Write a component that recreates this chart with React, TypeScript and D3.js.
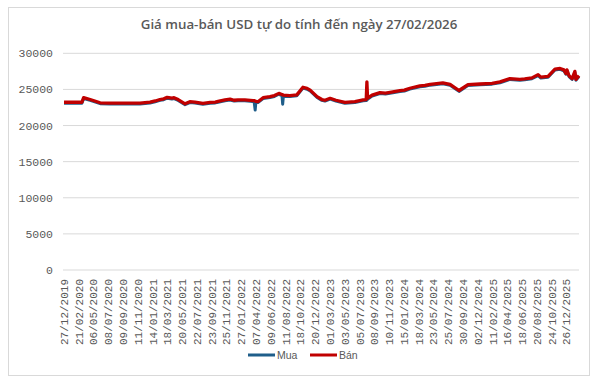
import React from "react";
import * as d3 from "d3";

const title = "Giá mua-bán USD tự do tính đến ngày 27/02/2026";

const tickLabels = [
  "27/12/2019", "21/02/2020", "06/05/2020", "08/07/2020", "09/09/2020", "11/11/2020",
  "14/01/2021", "18/03/2021", "20/05/2021", "22/07/2021", "23/09/2021", "25/11/2021",
  "27/01/2022", "07/04/2022", "09/06/2022", "11/08/2022", "18/10/2022", "20/12/2022",
  "01/03/2023", "03/05/2023", "05/07/2023", "08/09/2023", "10/11/2023", "15/01/2024",
  "18/03/2024", "23/05/2024", "25/07/2024", "30/09/2024", "02/12/2024", "11/02/2025",
  "16/04/2025", "18/06/2025", "20/08/2025", "24/10/2025", "26/12/2025",
];
const labelInterval = 43; // trading days between labels
const totalDays = 1498;

// trading-day index of each sampled observation
const dayIndex = [
  0, 52, 57, 76, 105, 134, 221, 250, 265, 279, 290, 300, 314, 320, 332, 352, 366, 381,
  404, 425, 440, 448, 468, 483, 495, 506, 526, 550, 553, 556, 558, 564, 579, 599, 612,
  625, 634, 636, 638, 657, 677, 695, 707, 716, 736, 750, 759, 774, 791, 817, 846, 870,
  879, 881, 883, 896, 919, 935, 948, 977, 990, 1006, 1035, 1050, 1065, 1102, 1123, 1149,
  1175, 1210, 1245, 1268, 1297, 1326, 1340, 1361, 1379, 1387, 1408, 1428, 1443, 1454,
  1460, 1463, 1469, 1478, 1486, 1489, 1498,
];

const banValues = [
  23220, 23220, 23860, 23600, 23150, 23100, 23100, 23250, 23400, 23600, 23700, 23900,
  23800, 23850, 23600, 23000, 23300, 23250, 23080, 23200, 23250, 23350, 23550, 23650,
  23500, 23550, 23550, 23450, 23450, 23400, 23350, 23300, 23850, 24000, 24150, 24450,
  24300, 24250, 24200, 24150, 24250, 25300, 25150, 24900, 24000, 23600, 23500, 23770,
  23500, 23200, 23300, 23540, 23600, 26050, 23800, 24200, 24550, 24500, 24600, 24830,
  24900, 25160, 25480, 25550, 25710, 25900, 25700, 24850, 25650, 25750, 25850, 26050,
  26500, 26400, 26450, 26600, 27050, 26700, 26800, 27800, 27900, 27700, 27200, 27700,
  26900, 26500, 27500, 26400, 26900,
];

const muaValues = [
  23100, 23100, 23740, 23480, 23030, 22980, 22980, 23130, 23280, 23480, 23580, 23780,
  23680, 23730, 23480, 22880, 23180, 23130, 22960, 23080, 23130, 23230, 23430, 23530,
  23380, 23430, 23430, 23330, 23300, 22150, 23230, 23180, 23730, 23880, 24030, 24330,
  24150, 22950, 24050, 24030, 24130, 25180, 25030, 24780, 23880, 23480, 23380, 23650,
  23380, 23080, 23180, 23420, 23450, 23500, 23650, 24080, 24430, 24380, 24480, 24710,
  24780, 25040, 25360, 25430, 25590, 25780, 25580, 24730, 25530, 25630, 25730, 25930,
  26380, 26280, 26330, 26480, 26900, 26580, 26680, 27680, 27780, 27580, 27100, 27550,
  26780, 26380, 27350, 26280, 26780,
];

const yTicks = [0, 5000, 10000, 15000, 20000, 25000, 30000];

const W = 600;
const H = 383;
const plotLeft = 63;
const plotRight = 579;
const plotTop = 53.3;
const plotBottom = 270;

export default function App() {
  const x = d3.scaleLinear().domain([-3, totalDays]).range([plotLeft, plotRight]);
  const y = d3.scaleLinear().domain([0, 30000]).range([plotBottom, plotTop]);

  const ban = dayIndex.map((d, i) => ({ d, v: banValues[i] }));
  const mua = dayIndex.map((d, i) => ({ d, v: muaValues[i] }));
  const line = d3
    .line<{ d: number; v: number }>()
    .x((p) => x(p.d))
    .y((p) => y(p.v));

  const blue = "#1F5E8A";
  const red = "#C00000";
  const grey = "#595959";

  return (
    <svg
      width={W}
      height={H}
      style={{ position: "absolute", left: 0, top: 0, background: "#fff" }}
    >
      <rect x={8.5} y={7.5} width={581} height={368} fill="#fff" stroke="#D9D9D9" />
      <text
        x={299}
        y={29}
        textAnchor="middle"
        fontFamily="'Open Sans', sans-serif"
        fontWeight={600}
        fontSize={13.3}
        fill={grey}
      >
        {title}
      </text>
      {yTicks.map((t) => (
        <g key={t}>
          <line
            x1={plotLeft}
            x2={plotRight}
            y1={y(t)}
            y2={y(t)}
            stroke="#D9D9D9"
            strokeWidth={1}
          />
          <text
            x={53}
            y={y(t)}
            dy="0.35em"
            textAnchor="end"
            fontFamily="'Liberation Mono', monospace"
            fontSize={11.5}
            fill={grey}
          >
            {t}
          </text>
        </g>
      ))}
      {tickLabels.map((lab, i) => {
        const px = x(i * labelInterval);
        return (
          <text
            key={lab}
            transform={`translate(${px},${279}) rotate(-90)`}
            dy="0.35em"
            textAnchor="end"
            fontFamily="'Liberation Mono', monospace"
            fontSize={11}
            fill={grey}
          >
            {lab}
          </text>
        );
      })}
      <path
        d={line(mua) || ""}
        fill="none"
        stroke={blue}
        strokeWidth={3}
        strokeLinejoin="round"
      />
      <path
        d={line(ban) || ""}
        fill="none"
        stroke={red}
        strokeWidth={3.3}
        strokeLinejoin="round"
      />
      <g fontFamily="'Liberation Sans', sans-serif" fontSize={10.5} fill={grey}>
        <line x1={248} x2={275} y1={355} y2={355} stroke={blue} strokeWidth={3} />
        <text x={277} y={355} dy="0.35em">Mua</text>
        <line x1={310} x2={337} y1={355} y2={355} stroke={red} strokeWidth={3} />
        <text x={339} y={355} dy="0.35em">Bán</text>
      </g>
    </svg>
  );
}
